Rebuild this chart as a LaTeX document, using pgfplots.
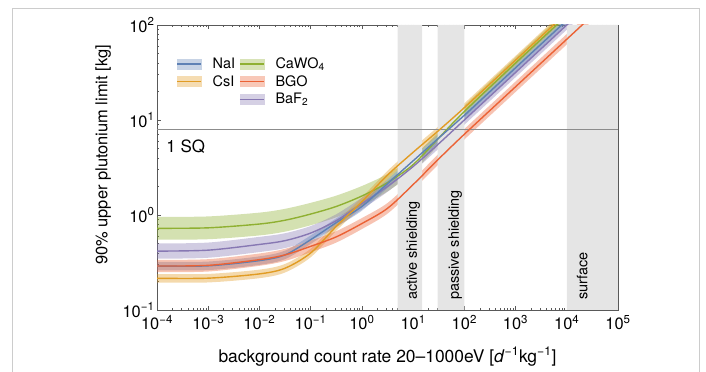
\documentclass[border=0pt]{standalone}
\usepackage{fontspec}
\setmainfont{TeX Gyre Heros}
\usepackage{pgfplots}
\usepackage{pgfplotstable}
\pgfplotsset{compat=1.18}
\usepgfplotslibrary{fillbetween}

\definecolor{cNaI}{RGB}{94,129,181}
\definecolor{cCsI}{RGB}{225,156,36}
\definecolor{cCaWO}{RGB}{143,176,50}
\definecolor{cBGO}{RGB}{235,98,53}
\definecolor{cBaF}{RGB}{135,120,179}
\definecolor{bandgray}{RGB}{229,229,229}

% columns: log10(rate), log10(limit), half width of band in log10
\pgfplotstableread{
lx m w
-4 -0.537 0.045
-3 -0.535 0.045
-2 -0.480 0.045
-1.5 -0.420 0.045
-1 -0.260 0.045
-0.5 -0.080 0.045
0 0.090 0.045
0.5 0.330 0.045
1 0.570 0.045
1.5 0.810 0.045
2 1.050 0.045
3 1.550 0.045
4 2.050 0.045
5 2.550 0.045
}\tNaI
\pgfplotstableread{
lx m w
-4 -0.666 0.045
-3 -0.665 0.045
-2 -0.620 0.045
-1.5 -0.560 0.045
-1 -0.400 0.045
-0.5 -0.120 0.045
0 0.140 0.045
0.5 0.420 0.045
1 0.660 0.045
1.5 0.890 0.045
2 1.130 0.045
3 1.630 0.045
4 2.130 0.045
5 2.630 0.045
}\tCsI
\pgfplotstableread{
lx m w
-4 -0.140 0.120
-3 -0.135 0.120
-2 -0.095 0.120
-1.5 -0.055 0.120
-1 0.010 0.118
-0.5 0.090 0.114
0 0.200 0.105
0.5 0.340 0.092
1 0.530 0.080
1.5 0.810 0.070
2 1.090 0.062
3 1.600 0.060
4 2.100 0.060
5 2.600 0.060
}\tCaWO
\pgfplotstableread{
lx m w
-4 -0.537 0.065
-3 -0.530 0.065
-2 -0.470 0.065
-1.5 -0.420 0.064
-1 -0.330 0.062
-0.5 -0.230 0.060
0 -0.090 0.058
0.5 0.070 0.056
1 0.320 0.055
1.5 0.590 0.055
2 0.850 0.055
3 1.350 0.055
4 1.850 0.055
5 2.350 0.055
}\tBGO
\pgfplotstableread{
lx m w
-4 -0.380 0.080
-3 -0.370 0.080
-2 -0.310 0.080
-1.5 -0.270 0.078
-1 -0.190 0.074
-0.5 -0.060 0.068
0 0.120 0.062
0.5 0.300 0.056
1 0.510 0.052
1.5 0.750 0.050
2 1.000 0.050
3 1.500 0.050
4 2.000 0.050
5 2.500 0.050
}\tBaF

\pgfplotsset{
  leg/.style={legend image code/.code={
      \fill[#1!35] (0pt,-5bp) rectangle (24bp,5bp);
      \draw[#1, line width=1.4bp] (0pt,0pt) -- (24bp,0pt);}},
}

\newcommand{\band}[3]{%
  \addplot[name path=#3u, draw=none, smooth, forget plot] table[x=lx, y expr={\thisrow{m}+\thisrow{w}}] {#1};
  \addplot[name path=#3l, draw=none, smooth, forget plot] table[x=lx, y expr={\thisrow{m}-\thisrow{w}}] {#1};
  \addplot[fill=#2, fill opacity=0.38, draw=none, forget plot] fill between[of=#3u and #3l];
}
\newcommand{\mline}[2]{%
  \addplot[#2, line width=1.4bp, smooth, forget plot] table[x=lx, y=m] {#1};
}

\begin{document}
\begin{tikzpicture}
\draw[gray!40, line width=0.9bp] (12bp,-10bp) rectangle (699bp,364bp);
\begin{axis}[
  at={(157bp,62bp)}, anchor=south west,
  width=461bp, height=285bp, scale only axis,
  xmin=-4, xmax=5, ymin=-1, ymax=2,
  axis line style={draw=black!65, line width=0.7bp},
  tick align=inside,
  major tick length=4bp, minor tick length=2bp,
  every tick/.style={black!65, line width=0.5bp},
  xtick={-4,-3,-2,-1,0,1,2,3,4,5},
  xticklabels={10\textsuperscript{−4},10\textsuperscript{−3},10\textsuperscript{−2},10\textsuperscript{−1},10\textsuperscript{0},10\textsuperscript{1},10\textsuperscript{2},10\textsuperscript{3},10\textsuperscript{4},10\textsuperscript{5}},
  minor xtick={-3.69897,-3.52288,-3.39794,-3.30103,-3.22185,-3.15490,-3.09691,-3.04576,
    -2.69897,-2.52288,-2.39794,-2.30103,-2.22185,-2.15490,-2.09691,-2.04576,
    -1.69897,-1.52288,-1.39794,-1.30103,-1.22185,-1.15490,-1.09691,-1.04576,
    -0.69897,-0.52288,-0.39794,-0.30103,-0.22185,-0.15490,-0.09691,-0.04576,
    0.30103,0.47712,0.60206,0.69897,0.77815,0.84510,0.90309,0.95424,
    1.30103,1.47712,1.60206,1.69897,1.77815,1.84510,1.90309,1.95424,
    2.30103,2.47712,2.60206,2.69897,2.77815,2.84510,2.90309,2.95424,
    3.30103,3.47712,3.60206,3.69897,3.77815,3.84510,3.90309,3.95424,
    4.30103,4.47712,4.60206,4.69897,4.77815,4.84510,4.90309,4.95424},
  ytick={-1,0,1,2},
  yticklabels={10\textsuperscript{−1},10\textsuperscript{0},10\textsuperscript{1},10\textsuperscript{2}},
  minor ytick={-0.69897,-0.52288,-0.39794,-0.30103,-0.22185,-0.15490,-0.09691,-0.04576,
    0.30103,0.47712,0.60206,0.69897,0.77815,0.84510,0.90309,0.95424,
    1.30103,1.47712,1.60206,1.69897,1.77815,1.84510,1.90309,1.95424},
  ticklabel style={font=\fontsize{16.5}{18}\selectfont, text=black},
  xticklabel style={yshift=-1.5bp},
  yticklabel style={xshift=1bp},
  xlabel={background count rate 20–1000eV [\textit{d}\textsuperscript{−1}kg\textsuperscript{−1}]},
  ylabel={90\% upper plutonium limit [kg]},
  xlabel style={font=\fontsize{17.5}{20}\selectfont, at={(axis description cs:0.5,0)}, anchor=base, yshift=-52bp},
  ylabel style={font=\fontsize{16.5}{19}\selectfont, at={(axis description cs:-0.117,0.544)}, anchor=center},
  legend columns=2,
  legend cell align=left,
  legend style={draw=none, fill=none, at={(0.035,0.9)}, anchor=north west,
    font=\fontsize{14.5}{16}\selectfont, row sep=1.5bp,
    /tikz/every even column/.append style={column sep=2bp},
    /tikz/every odd column/.append style={column sep=9bp}},
]
% shielding regions
\addplot[fill=bandgray, draw=none, forget plot] coordinates {(0.69897,-1) (0.69897,2) (1.17609,2) (1.17609,-1) (0.69897,-1)};
\addplot[fill=bandgray, draw=none, forget plot] coordinates {(1.47712,-1) (1.47712,2) (2,2) (2,-1) (1.47712,-1)};
\addplot[fill=bandgray, draw=none, forget plot] coordinates {(4,-1) (4,2) (5,2) (5,-1) (4,-1)};
% 1 SQ line (8 kg)
\addplot[black!45, line width=0.7bp, forget plot] coordinates {(-4,0.90309) (5,0.90309)};

\band{\tCaWO}{cCaWO}{caw}
\band{\tBaF}{cBaF}{baf}
\band{\tNaI}{cNaI}{nai}
\band{\tCsI}{cCsI}{csi}
\band{\tBGO}{cBGO}{bgo}

\mline{\tCaWO}{cCaWO}
\mline{\tBaF}{cBaF}
\mline{\tNaI}{cNaI}
\mline{\tCsI}{cCsI}
\mline{\tBGO}{cBGO}

\node[anchor=base west, inner sep=0pt, font=\fontsize{17}{19}\selectfont] at (axis cs:-3.82,0.663) {1 SQ};
\node[rotate=90, anchor=west, inner sep=0pt, font=\fontsize{14.5}{16}\selectfont] at (axis cs:1.0,-0.895) {active shielding};
\node[rotate=90, anchor=west, inner sep=0pt, font=\fontsize{14.5}{16}\selectfont] at (axis cs:1.82,-0.895) {passive shielding};
\node[rotate=90, anchor=west, inner sep=0pt, font=\fontsize{14.5}{16}\selectfont] at (axis cs:4.30,-0.895) {surface};

\addlegendimage{leg=cNaI}\addlegendentry{NaI}
\addlegendimage{leg=cCaWO}\addlegendentry{CaWO\textsubscript{4}}
\addlegendimage{leg=cCsI}\addlegendentry{CsI}
\addlegendimage{leg=cBGO}\addlegendentry{BGO}
\addlegendimage{empty legend}\addlegendentry{}
\addlegendimage{leg=cBaF}\addlegendentry{BaF\textsubscript{2}}
\end{axis}
\pgfresetboundingbox
\useasboundingbox (0bp,0bp) rectangle (706bp,372bp);
\end{tikzpicture}
\end{document}
